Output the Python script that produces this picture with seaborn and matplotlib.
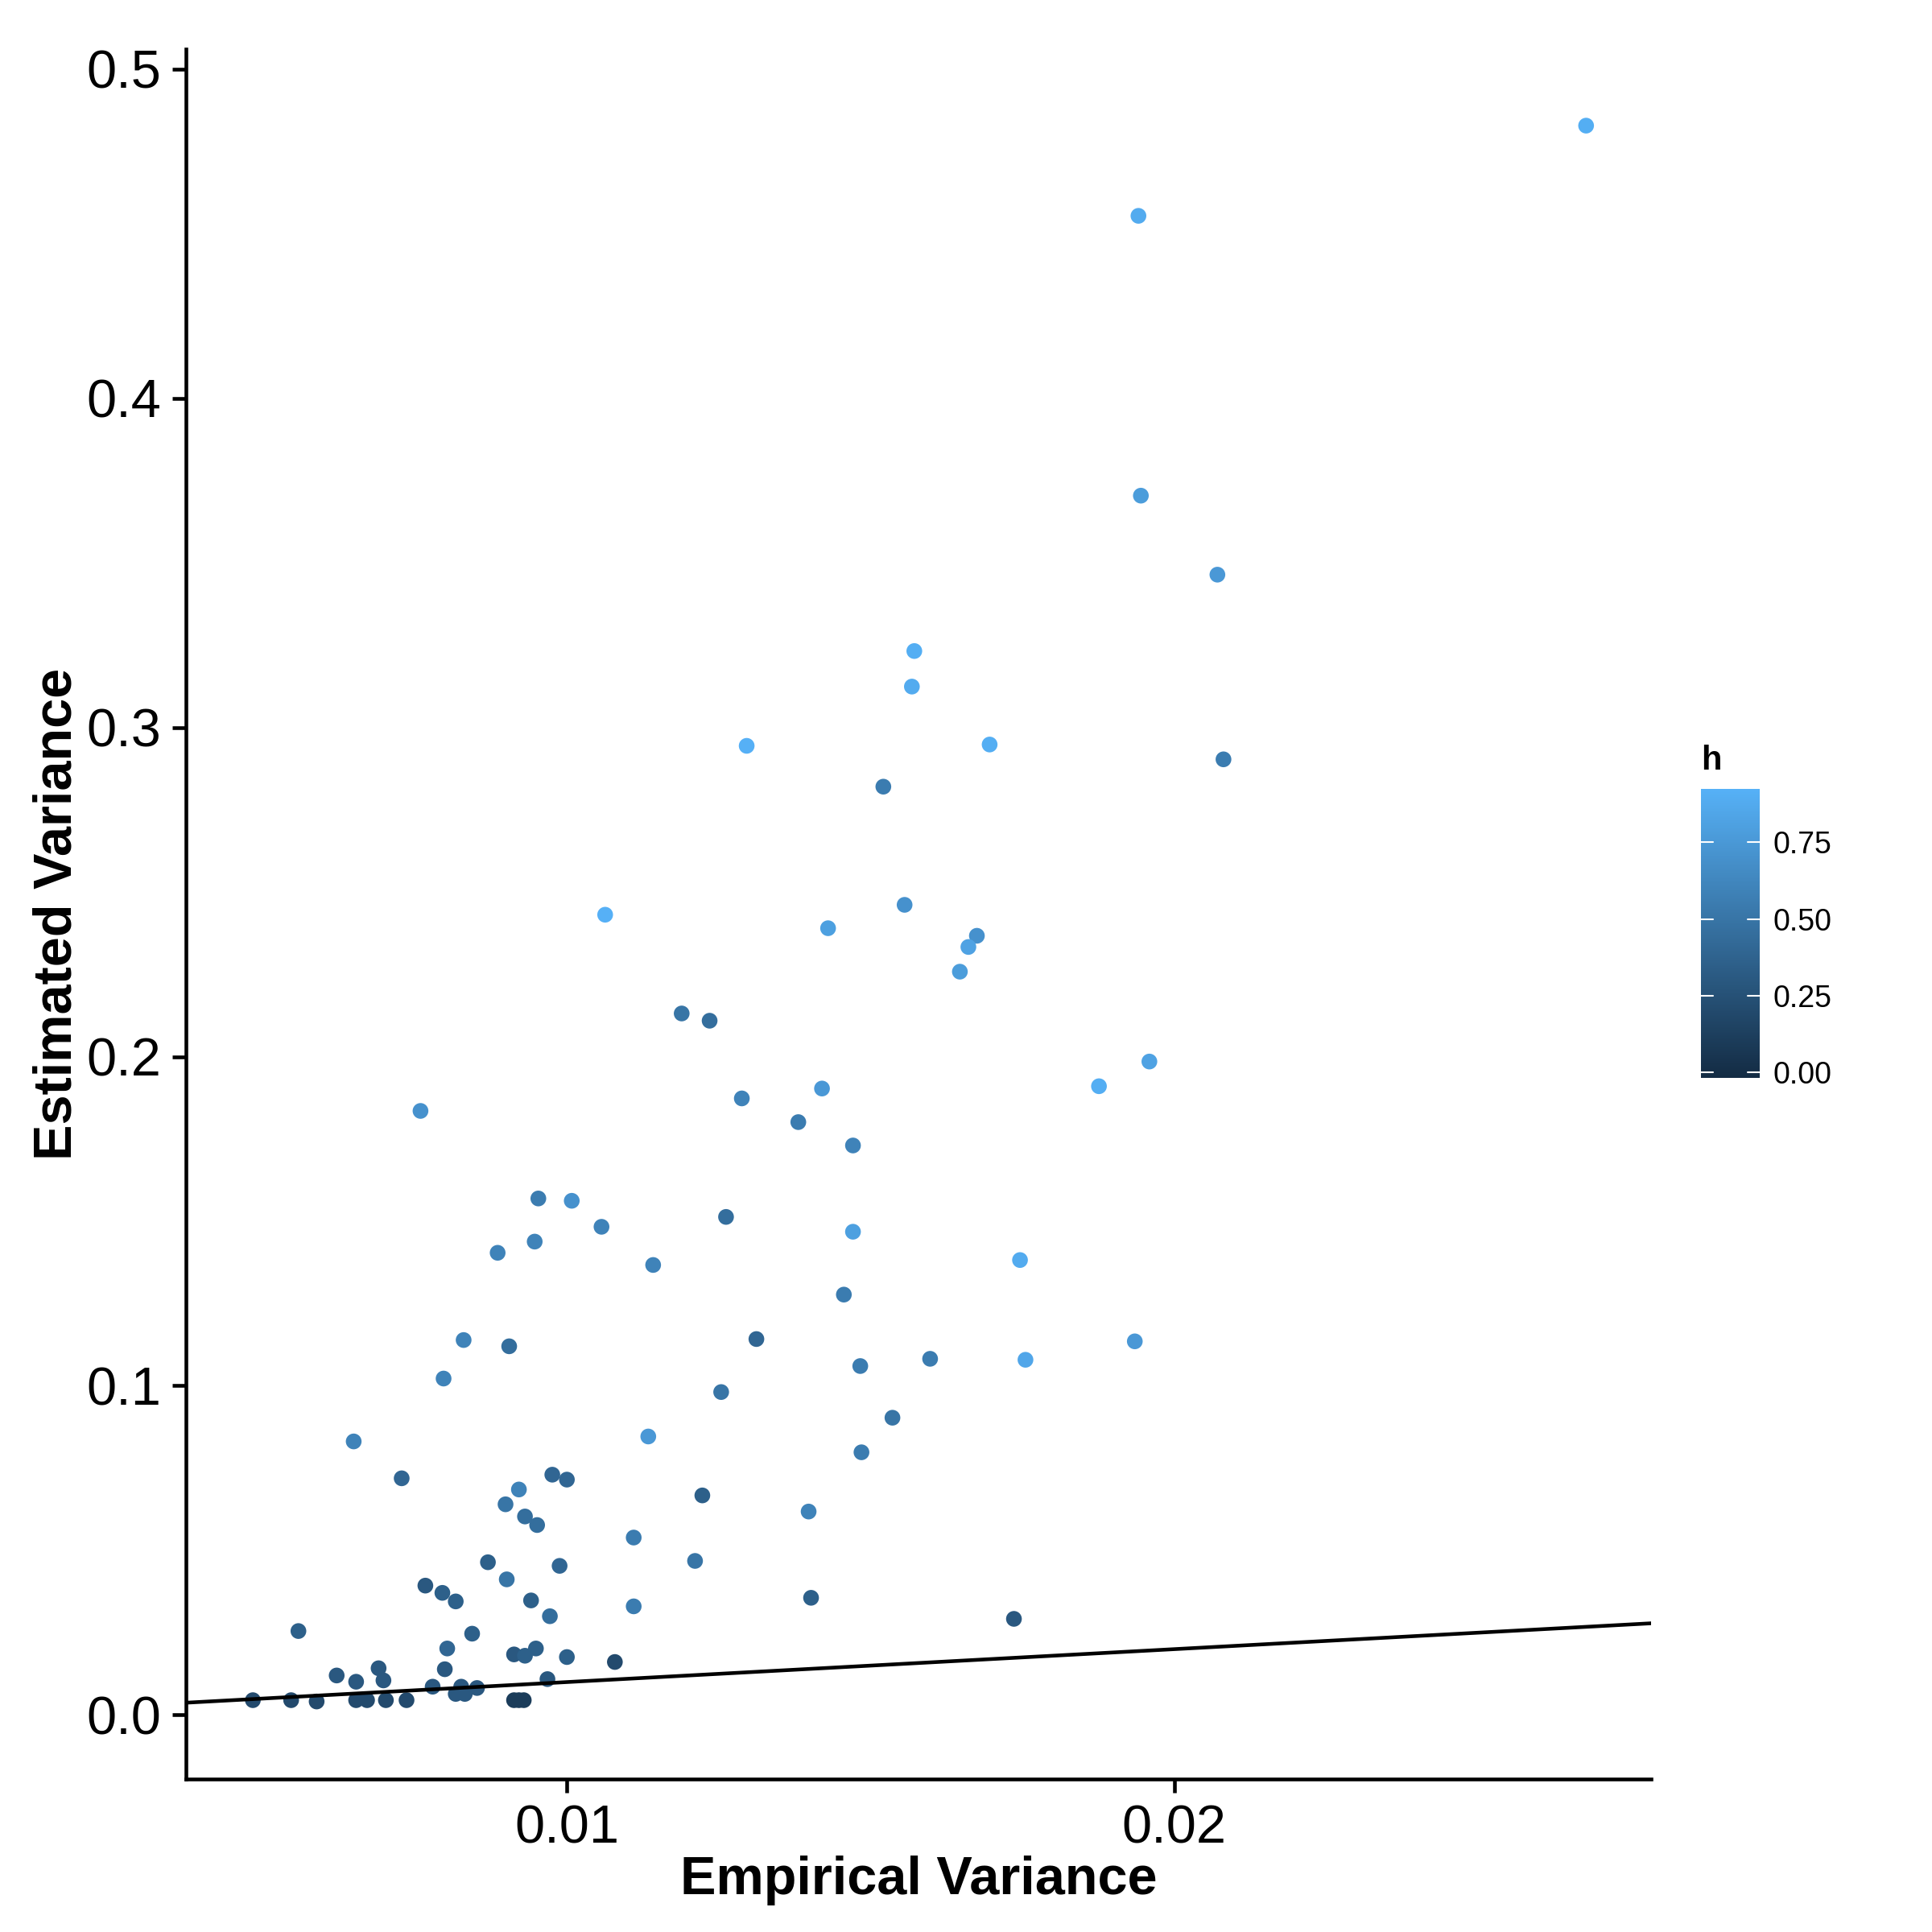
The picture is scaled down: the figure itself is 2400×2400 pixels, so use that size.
import numpy as np
import pandas as pd
import matplotlib
matplotlib.use("Agg")
import matplotlib.pyplot as plt
from matplotlib.colors import LinearSegmentedColormap, Normalize
import seaborn as sns

# values
empirical = [0.02678, 0.01941, 0.01945, 0.02071, 0.01572, 0.01568, 0.01296, 0.01696, 0.02081, 0.01521,
             0.01063, 0.01556, 0.01430, 0.01675, 0.01661, 0.01647, 0.01189, 0.01235, 0.01959, 0.01876,
             0.01420, 0.01288, 0.00759, 0.01381, 0.01471, 0.00953, 0.01008, 0.01262, 0.01057, 0.01471,
             0.00947, 0.00886, 0.01142, 0.01746, 0.01456, 0.00830, 0.01312, 0.01935, 0.00905, 0.01483,
             0.01598, 0.01755, 0.00797, 0.01254, 0.01536, 0.00649, 0.01134, 0.01485, 0.00728, 0.00976,
             0.01000, 0.00921, 0.01223, 0.00899, 0.01398, 0.00931, 0.00951, 0.01110, 0.01211, 0.00870,
             0.00988, 0.00901, 0.00767, 0.00795, 0.00817, 0.01402, 0.00941, 0.01110, 0.01736, 0.00972,
             0.00558, 0.00844, 0.00803, 0.00949, 0.00913, 0.00931, 0.01000, 0.01079, 0.00690, 0.00621,
             0.00653, 0.00698, 0.00799, 0.00968, 0.00779, 0.00826, 0.00852, 0.00817, 0.00832, 0.00483,
             0.00546, 0.00588, 0.00653, 0.00671, 0.00702, 0.00736, 0.00913, 0.00921, 0.00929]
estimated = [0.4828, 0.4554, 0.3704, 0.3464, 0.3232, 0.3124, 0.2944, 0.2948, 0.2903, 0.2820,
             0.2431, 0.2461, 0.2390, 0.2367, 0.2333, 0.2258, 0.2131, 0.2109, 0.1985, 0.1910,
             0.1903, 0.1873, 0.1835, 0.1801, 0.1730, 0.1569, 0.1562, 0.1513, 0.1483, 0.1468,
             0.1438, 0.1404, 0.1367, 0.1382, 0.1277, 0.1139, 0.1142, 0.1135, 0.1120, 0.1060,
             0.1082, 0.1079, 0.1022, 0.0981, 0.0903, 0.0831, 0.0846, 0.0798, 0.0719, 0.0730,
             0.0715, 0.0685, 0.0667, 0.0640, 0.0618, 0.0603, 0.0577, 0.0539, 0.0468, 0.0464,
             0.0453, 0.0412, 0.0393, 0.0371, 0.0345, 0.0356, 0.0348, 0.0330, 0.0292, 0.0300,
             0.0255, 0.0247, 0.0202, 0.0202, 0.0184, 0.0180, 0.0176, 0.0161, 0.0142, 0.0120,
             0.0101, 0.0105, 0.0139, 0.0109, 0.0086, 0.0086, 0.0082, 0.0064, 0.0064, 0.0045,
             0.0045, 0.0041, 0.0045, 0.0045, 0.0045, 0.0045, 0.0045, 0.0045, 0.0045]
h = [0.90, 0.88, 0.78, 0.75, 0.90, 0.88, 0.92, 0.90, 0.55, 0.55,
     0.92, 0.70, 0.80, 0.70, 0.82, 0.78, 0.50, 0.45, 0.82, 0.90,
     0.75, 0.60, 0.70, 0.55, 0.60, 0.55, 0.70, 0.45, 0.60, 0.80,
     0.60, 0.60, 0.60, 0.88, 0.55, 0.60, 0.40, 0.75, 0.45, 0.55,
     0.55, 0.85, 0.60, 0.50, 0.50, 0.60, 0.75, 0.55, 0.40, 0.40,
     0.40, 0.60, 0.35, 0.50, 0.60, 0.45, 0.45, 0.55, 0.50, 0.35,
     0.40, 0.50, 0.30, 0.35, 0.35, 0.35, 0.35, 0.55, 0.30, 0.45,
     0.35, 0.35, 0.40, 0.35, 0.30, 0.35, 0.35, 0.20, 0.30, 0.30,
     0.30, 0.30, 0.30, 0.30, 0.30, 0.30, 0.30, 0.30, 0.30, 0.20,
     0.20, 0.20, 0.20, 0.20, 0.20, 0.20, 0.10, 0.10, 0.10]

x_ticks = [0.01, 0.02]
y_ticks = [0.0, 0.1, 0.2, 0.3, 0.4, 0.5]
h_ticks = [0.0, 0.25, 0.5, 0.75]

df = pd.DataFrame({"Empirical Variance": empirical, "Estimated Variance": estimated, "h": h})

sns.set_style("white")
plt.rcParams["font.family"] = ["Liberation Sans", "DejaVu Sans"]
plt.rcParams["text.color"] = "black"
plt.rcParams["axes.labelcolor"] = "black"
plt.rcParams["xtick.color"] = "black"
plt.rcParams["ytick.color"] = "black"

cmap = LinearSegmentedColormap.from_list("gg", ["#132B43", "#56B1F7"])
norm = Normalize(vmin=-0.02, vmax=0.925)

fig = plt.figure(figsize=(8, 8), dpi=300)
ax = fig.add_axes([0.0963, 0.0791, 0.7583, 0.8954])

sns.scatterplot(data=df, x="Empirical Variance", y="Estimated Variance", hue="h",
                palette=cmap, hue_norm=norm, s=22, linewidth=0, legend=False, ax=ax)

xmin, xmax = 0.00373, 0.02785
ax.plot([xmin, xmax], [xmin, xmax], color="black", lw=1.1, zorder=1)
ax.set_xlim(xmin, xmax)
ax.set_ylim(-0.0195, 0.506)

ax.set_xticks(x_ticks)
ax.set_xticklabels(["0.01", "0.02"])
ax.set_yticks(y_ticks)
ax.set_yticklabels([f"{v:.1f}" for v in y_ticks])
ax.tick_params(axis="both", labelsize=16, length=4, width=1.1, color="black",
               labelcolor="black", direction="out", pad=3.5, bottom=True, left=True)
sns.despine(ax=ax)
for side in ["left", "bottom"]:
    ax.spines[side].set_color("black")
    ax.spines[side].set_linewidth(1.1)
ax.set_xlabel("Empirical Variance", fontsize=16, fontweight="bold", labelpad=0.5, color="black")
ax.set_ylabel("Estimated Variance", fontsize=16, fontweight="bold", labelpad=1, color="black")

cax = fig.add_axes([0.8804, 0.442, 0.0304, 0.1497])
sm = plt.cm.ScalarMappable(cmap=cmap, norm=norm)
cb = fig.colorbar(sm, cax=cax, ticks=h_ticks)
cb.outline.set_visible(False)
cb.ax.set_yticklabels(["0.00", "0.25", "0.50", "0.75"])
cb.ax.tick_params(labelsize=9, length=0, pad=4, labelcolor="black")
for t in h_ticks:
    cax.plot([0, 0.2], [t, t], color="white", lw=0.5, transform=cax.get_yaxis_transform())
    cax.plot([0.8, 1.0], [t, t], color="white", lw=0.5, transform=cax.get_yaxis_transform())
fig.text(0.8804, 0.598, "h", fontsize=10, fontweight="bold", ha="left", va="bottom")

fig.savefig("out.png", dpi=300, facecolor="white")
